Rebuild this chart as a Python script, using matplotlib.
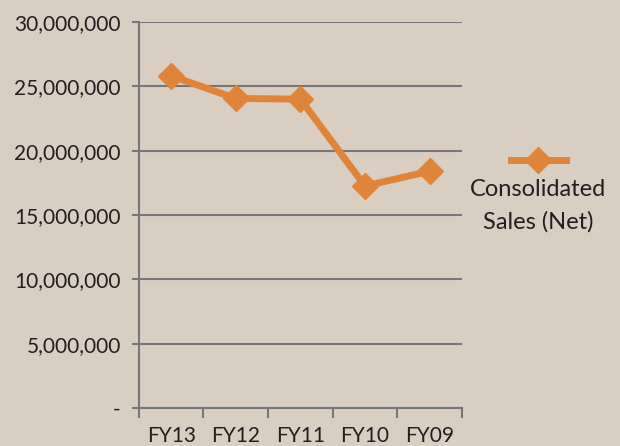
import matplotlib
matplotlib.use('Agg')
import matplotlib.pyplot as plt
from matplotlib.lines import Line2D
from matplotlib.ticker import FuncFormatter
import numpy as np

# data
years = ['FY13', 'FY12', 'FY11', 'FY10', 'FY09']
sales = [25800000, 24050000, 24000000, 17250000, 18400000]
y_ticks = [0, 5000000, 10000000, 15000000, 20000000, 25000000, 30000000]

bg = '#D9CEC2'
orange = '#E0843A'
grid_c = '#76777A'
text_c = '#231F20'

plt.rcParams['font.family'] = ['Lato', 'DejaVu Sans']

fig = plt.figure(figsize=(6.2, 4.46), dpi=100)
fig.patch.set_facecolor(bg)
ax = fig.add_axes([0.224, 0.085, 0.521, 0.866])
ax.set_facecolor(bg)

x = np.arange(len(years))
ax.plot(x, sales, color=orange, lw=5, marker='D', ms=13,
        solid_joinstyle='miter', zorder=3, clip_on=False)

ax.set_xlim(-0.5, len(years) - 0.5)
ax.set_ylim(0, 30000000)
ax.set_yticks(y_ticks)
ax.yaxis.set_major_formatter(FuncFormatter(lambda v, p: '-' if v == 0 else f'{int(v):,}'))
ax.grid(axis='y', color=grid_c, lw=1.5)
ax.set_axisbelow(True)

ax.set_xticks(x)
ax.set_xticklabels(years)
ax.set_xticks(np.arange(-0.5, len(years)), minor=True)
ax.tick_params(axis='x', which='major', length=0, pad=13, labelsize=15, colors=text_c)
ax.tick_params(axis='x', which='minor', length=7, width=1.5, color=grid_c, direction='out')
ax.tick_params(axis='y', length=5, width=1.5, color=grid_c, pad=8, labelsize=15, labelcolor=text_c)

for s in ['top', 'right']:
    ax.spines[s].set_visible(False)
for s in ['left', 'bottom']:
    ax.spines[s].set_color(grid_c)
    ax.spines[s].set_linewidth(1.5)

# legend drawn to look like the Excel one (handle above text)
fig.add_artist(Line2D([511 / 620, 566 / 620], [1 - 160 / 446] * 2, color=orange, lw=5,
                      transform=fig.transFigure))
fig.add_artist(Line2D([538 / 620], [1 - 160 / 446], color=orange, marker='D', ms=13,
                      transform=fig.transFigure))
fig.text(538 / 620, 1 - 190 / 446, 'Consolidated', ha='center', va='center', fontsize=17, color=text_c)
fig.text(538 / 620, 1 - 222 / 446, 'Sales (Net)', ha='center', va='center', fontsize=17, color=text_c)

fig.savefig('out.png', dpi=100, facecolor=bg)
